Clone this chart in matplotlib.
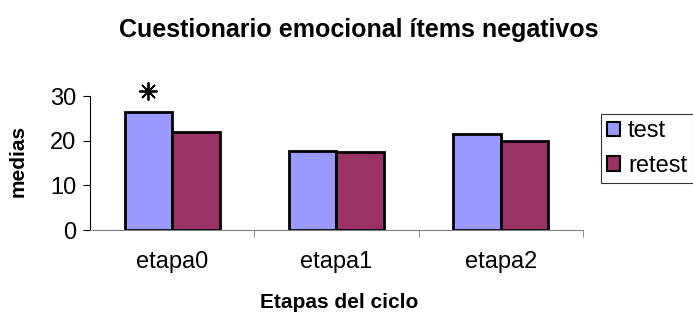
import matplotlib
matplotlib.use("Agg")
import matplotlib.pyplot as plt
import numpy as np

plt.rcParams['font.family'] = ['Liberation Sans', 'DejaVu Sans']

categories = ["etapa0", "etapa1", "etapa2"]
test = [26.5, 17.8, 21.6]
retest = [22.0, 17.5, 19.9]
series_names = ["test", "retest"]
yticks = [0, 10, 20, 30]
star_y = 31.1

fig = plt.figure(figsize=(6.93, 3.16), dpi=100)
ax = fig.add_axes([0.130, 0.272, 0.711, 0.424])

x = np.arange(len(categories))
w = 0.29
ax.bar(x - w/2, test, w, color="#9999FF", edgecolor="black", linewidth=2, label=series_names[0])
ax.bar(x + w/2, retest, w, color="#993366", edgecolor="black", linewidth=2, label=series_names[1])

ax.plot([x[0] - w/2], [star_y], marker=(8, 2, 0), markersize=13, color="black",
        markeredgewidth=1.3, clip_on=False, linestyle="none")

ax.set_xlim(-0.5, 2.5)
ax.set_ylim(0, 30)
ax.set_yticks(yticks)
ax.set_xticks(x)
ax.set_xticklabels(categories, fontsize=17)
ax.set_xticks([0.5, 1.5, 2.5], minor=True)
ax.tick_params(axis='x', which='major', length=0, pad=15)
ax.tick_params(axis='x', which='minor', length=5, color="#808080", direction="out")
ax.tick_params(axis='y', length=5, labelsize=17, direction="out", pad=5)
for s in ["top", "right"]:
    ax.spines[s].set_visible(False)
ax.spines["bottom"].set_color("#808080")
ax.spines["left"].set_color("black")

ax.set_ylabel("medias", fontsize=15, fontweight="bold")
ax.yaxis.label.set_va("center")
ax.yaxis.set_label_coords(-0.146, 0.519)
ax.set_xlabel("Etapas del ciclo", fontsize=15, fontweight="bold")
ax.xaxis.label.set_va("baseline")
ax.xaxis.set_label_coords(0.505, -0.585)

fig.text(0.517, 0.905, "Cuestionario emocional ítems negativos", ha="center", va="center",
         fontsize=18, fontweight="bold")

leg = fig.legend(loc="upper left", bbox_to_anchor=(0.867, 0.639), fontsize=17,
                 frameon=True, fancybox=False, edgecolor="black", handlelength=0.55,
                 handleheight=0.55, handletextpad=0.35, borderpad=0.25, labelspacing=0.55,
                 borderaxespad=0)
leg.get_frame().set_linewidth(0.8)
for h in leg.legend_handles:
    h.set_linewidth(1.5)

fig.savefig("out.png", dpi=100)
